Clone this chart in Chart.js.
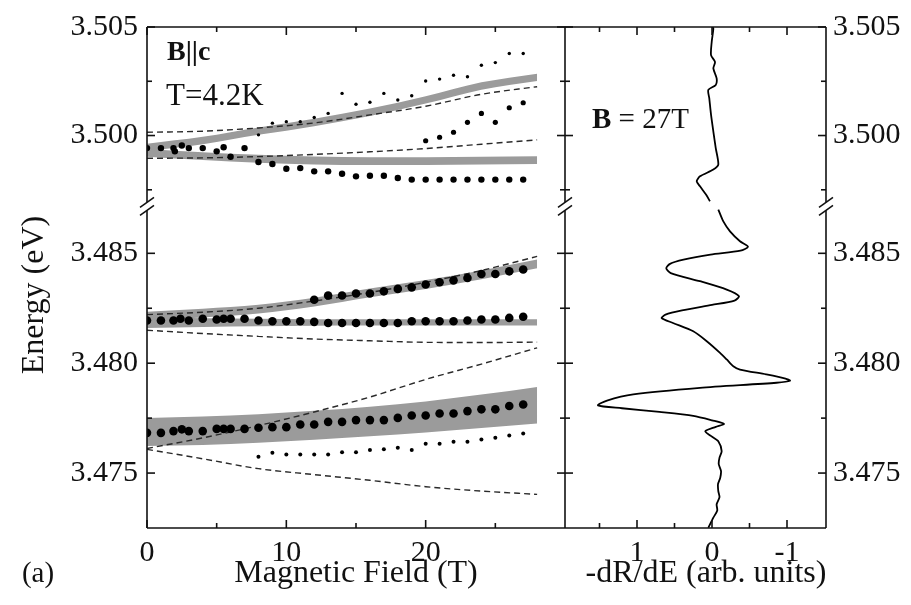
<!DOCTYPE html>
<html>
<head>
<meta charset="utf-8">
<title>Exciton energies vs magnetic field</title>
<script src="https://cdn.jsdelivr.net/npm/chart.js@4.4.1/dist/chart.umd.min.js"></script>
<style>
  html, body { margin: 0; padding: 0; background: #fff; }
  #wrap { width: 911px; height: 605px; }
</style>
</head>
<body>
<div id="wrap"><canvas id="fig" width="911" height="605"></canvas></div>
<script>
// tick values for the four axes
const fieldTicks = [0, 5, 10, 15, 20, 25];
const signalTicks = [1.5, 1, 0.5, 0, -0.5, -1];
const upperTicks = [3.4975, 3.5, 3.5025, 3.505];
const lowerTicks = [3.475, 3.4775, 3.48, 3.4825, 3.485];

// measured peaks, upper (n=2) group -- field in T, energy in eV
const n2MainB = [0, 1, 1.9, 2, 2.5, 3, 4, 5, 5.5, 6, 7, 8, 9, 10, 11, 12, 13, 14, 15, 16, 17, 18, 19, 20, 21, 22, 23, 24, 25, 26, 27];
const n2MainE = [3.49942, 3.49942, 3.49942, 3.49927, 3.49954, 3.49942, 3.49942, 3.49927, 3.49946, 3.49902, 3.49942, 3.49878, 3.49869, 3.49847, 3.4985, 3.49835, 3.49835, 3.49824, 3.49812, 3.49815, 3.49815, 3.49804, 3.49797, 3.49797, 3.49797, 3.49797, 3.49797, 3.49797, 3.49797, 3.49797, 3.49797];
const n2WeakB = [8, 9, 10, 11, 12, 13, 14, 15, 16, 17, 18, 19, 20, 21, 22, 23, 24, 25, 26, 27];
const n2WeakE = [3.50003, 3.50057, 3.50064, 3.50064, 3.50083, 3.50102, 3.50194, 3.50144, 3.50153, 3.50194, 3.50164, 3.50183, 3.50251, 3.5026, 3.50278, 3.50271, 3.50324, 3.50336, 3.50378, 3.50378];
const n2MidB = [20, 21, 22, 23, 24, 25, 26, 27];
const n2MidE = [3.49976, 3.49992, 3.50015, 3.50061, 3.50102, 3.50061, 3.50128, 3.50151];

// measured peaks, lower (n=1) group
const aSplitB = [12, 13, 14, 15, 16, 17, 18, 19, 20, 21, 22, 23, 24, 25, 26, 27];
const aSplitE = [3.48289, 3.48308, 3.48308, 3.48317, 3.48317, 3.48327, 3.48338, 3.48345, 3.48358, 3.48368, 3.48377, 3.48388, 3.48406, 3.48406, 3.48418, 3.48426];
const aMainB = [0, 1, 1.9, 2.4, 3, 4, 5, 5.5, 6, 7, 8, 9, 10, 11, 12, 13, 14, 15, 16, 17, 18, 19, 20, 21, 22, 23, 24, 25, 26, 27];
const aMainE = [3.48194, 3.48194, 3.48194, 3.48202, 3.48194, 3.48202, 3.48199, 3.48202, 3.48202, 3.48202, 3.48194, 3.48191, 3.48191, 3.48191, 3.48188, 3.48183, 3.48183, 3.48183, 3.48183, 3.48183, 3.48183, 3.48191, 3.48191, 3.48191, 3.48191, 3.48194, 3.48199, 3.48199, 3.48206, 3.48211];
const bMainB = [0, 1, 1.9, 2.5, 3, 4, 5, 5.5, 6, 7, 8, 9, 10, 11, 12, 13, 14, 15, 16, 17, 18, 19, 20, 21, 22, 23, 24, 25, 26, 27];
const bMainE = [3.47683, 3.47683, 3.47691, 3.47699, 3.47691, 3.47691, 3.47701, 3.47701, 3.47701, 3.47701, 3.47706, 3.47709, 3.47709, 3.47721, 3.47721, 3.47733, 3.47733, 3.47741, 3.47741, 3.47741, 3.47751, 3.47762, 3.47762, 3.47771, 3.47771, 3.47782, 3.4779, 3.4779, 3.47805, 3.47812];
const bWeakB = [8, 9, 10, 11, 12, 13, 14, 15, 16, 17, 18, 19, 20, 21, 22, 23, 24, 25, 26, 27];
const bWeakE = [3.47574, 3.47592, 3.47585, 3.47585, 3.47585, 3.47585, 3.47595, 3.47595, 3.47605, 3.47608, 3.47615, 3.47605, 3.47633, 3.47633, 3.47642, 3.47642, 3.47653, 3.47661, 3.47671, 3.4768];

// calculated levels (dashed) and their broadened ranges (grey)
const calcB = [0, 4, 8, 12, 16, 20, 24, 28];
const n2DashHi = [3.50015, 3.5002, 3.50035, 3.50058, 3.50095, 3.50135, 3.5019, 3.50225];
const n2DashLo = [3.49895, 3.49897, 3.49903, 3.49913, 3.49925, 3.4994, 3.4996, 3.4998];
const aDashHi = [3.48221, 3.48232, 3.4825, 3.48283, 3.48322, 3.48368, 3.48422, 3.48486];
const aDashLo = [3.4815, 3.48135, 3.48122, 3.4811, 3.48102, 3.48095, 3.48094, 3.48096];
const bDashHi = [3.47612, 3.4766, 3.47716, 3.47778, 3.47846, 3.47926, 3.47996, 3.4807];
const bDashLo = [3.47608, 3.47565, 3.4752, 3.47493, 3.47467, 3.47438, 3.47418, 3.47403];

const n2BandUpLo = [3.49928, 3.4996, 3.50003, 3.50043, 3.5009, 3.50147, 3.50211, 3.50251];
const n2BandUpHi = [3.49962, 3.49994, 3.50037, 3.50077, 3.50124, 3.50181, 3.50245, 3.50285];
const n2BandDnLo = [3.49902, 3.49887, 3.49875, 3.49867, 3.49864, 3.49864, 3.49866, 3.49869];
const n2BandDnHi = [3.49938, 3.49923, 3.49911, 3.49903, 3.499, 3.499, 3.49902, 3.49905];
const aBandUpLo = [3.48194, 3.48208, 3.48226, 3.48258, 3.483, 3.48338, 3.48382, 3.48432];
const aBandUpHi = [3.48234, 3.48248, 3.48266, 3.48298, 3.4834, 3.48378, 3.48422, 3.48472];
const aBandDnLo = [3.4816, 3.48165, 3.48168, 3.4817, 3.48171, 3.48172, 3.48172, 3.48172];
const aBandDnHi = [3.4821, 3.48205, 3.48202, 3.482, 3.482, 3.482, 3.482, 3.482];
const bBandLo = [3.47623, 3.47628, 3.47638, 3.47652, 3.47667, 3.47685, 3.47705, 3.47726];
const bBandHi = [3.4775, 3.47757, 3.47768, 3.47783, 3.47802, 3.47826, 3.47857, 3.47892];

// reflectance derivative at 27 T, split at the axis break
const specTopE = [3.505, 3.50492, 3.50431, 3.5037, 3.50339, 3.50309, 3.50263, 3.50233, 3.5021, 3.50171, 3.50096, 3.50018, 3.49942, 3.49866, 3.49843, 3.49812, 3.49789, 3.49766, 3.49728, 3.49697];
const specTopV = [-0.01, -0.018, 0.004, 0.013, -0.04, -0.018, -0.062, -0.05, 0.049, 0.036, 0.013, -0.018, -0.05, -0.084, -0.018, 0.16, 0.204, 0.16, 0.08, 0.027];
const specLowE = [3.48699, 3.48645, 3.486, 3.48555, 3.4853, 3.48512, 3.48494, 3.48471, 3.48452, 3.48432, 3.4841, 3.48373, 3.48335, 3.48305, 3.48285, 3.48265, 3.4824, 3.48221, 3.48205, 3.48183, 3.48145, 3.481, 3.48047, 3.48017, 3.47986, 3.47971, 3.47949, 3.4793, 3.4792, 3.47911, 3.47888, 3.47858, 3.4783, 3.47808, 3.47795, 3.47778, 3.4776, 3.4774, 3.47724, 3.4771, 3.4769, 3.47668, 3.47645, 3.476, 3.4757, 3.4754, 3.4751, 3.47479, 3.4745, 3.47418, 3.4739, 3.47358, 3.4733, 3.47297, 3.47251];
const specLowV = [-0.084, -0.151, -0.24, -0.373, -0.48, -0.38, 0.02, 0.38, 0.56, 0.61, 0.55, 0.16, -0.196, -0.36, -0.3, 0.0, 0.4, 0.62, 0.67, 0.52, 0.25, 0.07, -0.107, -0.196, -0.284, -0.373, -0.72, -0.98, -1.04, -0.86, 0.16, 1.05, 1.4, 1.52, 1.2, 0.7, 0.25, 0.0, -0.16, -0.05, 0.09, 0.01, -0.084, -0.129, -0.1, -0.09, -0.12, -0.11, -0.08, -0.084, -0.1, -0.062, -0.07, -0.018, 0.049];

const SERIF = '"Liberation Serif", "Times New Roman", serif';
const INK = '#111';
const GREY = '#9b9b9b';

const pts = (xs, ys) => xs.map((x, i) => ({x: x, y: ys[i]}));

function dots(xs, ys, r, yAxisID) {
  return {data: pts(xs, ys), xAxisID: 'x', yAxisID: yAxisID, showLine: false,
    pointRadius: r, pointBackgroundColor: '#000', pointBorderWidth: 0, order: 0};
}
function dashed(ys, yAxisID) {
  return {data: pts(calcB, ys), xAxisID: 'x', yAxisID: yAxisID, showLine: true,
    borderColor: '#2a2a2a', borderWidth: 1.4, borderDash: [6, 4], pointRadius: 0,
    cubicInterpolationMode: 'monotone', fill: false, order: 1};
}
function band(lo, hi, yAxisID) {
  const common = {xAxisID: 'x', yAxisID: yAxisID, showLine: true, borderWidth: 0,
    borderColor: GREY, pointRadius: 0, cubicInterpolationMode: 'monotone', order: 2};
  return [
    Object.assign({data: pts(calcB, lo), fill: false}, common),
    Object.assign({data: pts(calcB, hi), fill: '-1', backgroundColor: GREY}, common)
  ];
}
function spectrum(es, vs, yAxisID) {
  return {data: pts(vs, es), xAxisID: 'x2', yAxisID: yAxisID, showLine: true,
    borderColor: '#000', borderWidth: 1.8, pointRadius: 0, tension: 0.25, fill: false, order: 0};
}

const datasets = [
  ...band(n2BandUpLo, n2BandUpHi, 'yT'),
  ...band(n2BandDnLo, n2BandDnHi, 'yT'),
  ...band(aBandUpLo, aBandUpHi, 'yB'),
  ...band(aBandDnLo, aBandDnHi, 'yB'),
  ...band(bBandLo, bBandHi, 'yB'),
  dashed(n2DashHi, 'yT'), dashed(n2DashLo, 'yT'),
  dashed(aDashHi, 'yB'), dashed(aDashLo, 'yB'),
  dashed(bDashHi, 'yB'), dashed(bDashLo, 'yB'),
  dots(n2MainB, n2MainE, 3.2, 'yT'),
  dots(n2WeakB, n2WeakE, 1.7, 'yT'),
  dots(n2MidB, n2MidE, 2.6, 'yT'),
  dots(aSplitB, aSplitE, 4.3, 'yB'),
  dots(aMainB, aMainE, 4.3, 'yB'),
  dots(bMainB, bMainE, 4.3, 'yB'),
  dots(bWeakB, bWeakE, 2, 'yB'),
  spectrum(specTopE, specTopV, 'yT'),
  spectrum(specLowE, specLowV, 'yB')
];

const isMajorE = v => Math.abs(v / 0.005 - Math.round(v / 0.005)) < 1e-6;
const energyLabel = v => isMajorE(v) ? v.toFixed(3) : '';
const fixTicks = vals => scale => { scale.ticks = vals.map(v => ({value: v})); };
const tickFont = {family: SERIF, size: 30};

function energyAxis(position, min, max, weight, stackWeight, vals) {
  return {
    type: 'linear', position: position, stack: position, stackWeight: stackWeight, weight: weight,
    min: min, max: max,
    afterBuildTicks: fixTicks(vals),
    afterFit: s => { s.width = position === 'left' ? 147 : 85; },
    grid: {display: false, drawTicks: false},
    border: {display: false},
    ticks: {autoSkip: false, padding: position === 'left' ? 9 : 7, color: INK, font: tickFont, callback: energyLabel}
  };
}

// frame, inward tick marks and the axis break
const framePlugin = {
  id: 'frame',
  afterDatasetsDraw(chart) {
    const {ctx, chartArea: a, scales: s} = chart;
    const mid = s.x.right;
    const brk = s.yT.bottom;
    const seg = (x1, y1, x2, y2) => { ctx.beginPath(); ctx.moveTo(x1, y1); ctx.lineTo(x2, y2); ctx.stroke(); };
    ctx.save();
    ctx.strokeStyle = INK;
    ctx.lineWidth = 1.6;
    seg(a.left, a.top, a.right, a.top);
    seg(a.left, a.bottom, a.right, a.bottom);
    for (const xv of [a.left, mid, a.right]) {
      seg(xv, a.top, xv, brk - 4);
      seg(xv, brk + 4, xv, a.bottom);
      seg(xv - 7, brk + 1, xv + 7, brk - 9);
      seg(xv - 7, brk + 9, xv + 7, brk - 1);
    }
    for (const v of fieldTicks) {
      const px = s.x.getPixelForValue(v);
      const len = v % 10 === 0 ? 8 : 5;
      seg(px, a.bottom, px, a.bottom - len);
      seg(px, a.top, px, a.top + len);
    }
    for (const v of signalTicks) {
      const px = s.x2.getPixelForValue(v);
      const len = Number.isInteger(v) ? 8 : 5;
      seg(px, a.bottom, px, a.bottom - len);
      seg(px, a.top, px, a.top + len);
    }
    for (const [scale, vals] of [[s.yT, upperTicks], [s.yB, lowerTicks]]) {
      for (const v of vals) {
        const py = scale.getPixelForValue(v);
        const len = isMajorE(v) ? 8 : 5;
        seg(a.left, py, a.left + len, py);
        seg(mid - len, py, mid + len, py);
        seg(a.right - len, py, a.right, py);
      }
    }
    ctx.restore();
  }
};

// titles and annotations
const textPlugin = {
  id: 'texts',
  afterDraw(chart) {
    const {ctx, chartArea: a, scales: s} = chart;
    ctx.save();
    ctx.fillStyle = INK;
    ctx.textAlign = 'left';
    ctx.textBaseline = 'alphabetic';
    ctx.font = 'bold 28px ' + SERIF;
    ctx.fillText('B||c', 167, 60);
    ctx.font = '31px ' + SERIF;
    ctx.fillText('T=4.2K', 166, 105);
    ctx.font = 'bold 29px ' + SERIF;
    ctx.fillText('B', 592, 128);
    const w = ctx.measureText('B').width;
    ctx.font = '29px ' + SERIF;
    ctx.fillText(' = 27T', 592 + w, 128);

    ctx.textAlign = 'center';
    ctx.textBaseline = 'middle';
    ctx.font = '32px ' + SERIF;
    ctx.fillText('Magnetic Field (T)', (a.left + s.x.right) / 2, 574);
    ctx.fillText('-dR/dE (arb. units)', 706, 574);
    ctx.font = '29px ' + SERIF;
    ctx.fillText('(a)', 38, 574);
    ctx.font = '32px ' + SERIF;
    ctx.translate(35, 295);
    ctx.rotate(-Math.PI / 2);
    ctx.fillText('Energy (eV)', 0, 0);
    ctx.restore();
  }
};

new Chart(document.getElementById('fig'), {
  type: 'scatter',
  data: {datasets: datasets},
  plugins: [framePlugin, textPlugin],
  options: {
    responsive: false,
    animation: false,
    devicePixelRatio: 1,
    layout: {padding: {top: 25, left: 0, right: 0, bottom: 0}},
    plugins: {legend: {display: false}, tooltip: {enabled: false}},
    scales: {
      x: {
        type: 'linear', position: 'bottom', stack: 'bottom', stackWeight: 418, weight: 1,
        min: 0, max: 30,
        afterBuildTicks: fixTicks(fieldTicks),
        afterFit: s => { s.height = 77; },
        grid: {display: false, drawTicks: false},
        border: {display: false},
        ticks: {autoSkip: false, maxRotation: 0, padding: 7, color: INK, font: tickFont,
          callback: v => v % 10 === 0 ? String(v) : ''}
      },
      x2: {
        type: 'linear', position: 'bottom', stack: 'bottom', stackWeight: 261, weight: 2,
        reverse: true, min: -1.52, max: 1.96,
        afterBuildTicks: fixTicks(signalTicks),
        afterFit: s => { s.height = 77; },
        grid: {display: false, drawTicks: false},
        border: {display: false},
        ticks: {autoSkip: false, maxRotation: 0, padding: 7, color: INK, font: tickFont,
          callback: v => Number.isInteger(v) ? String(v) : ''}
      },
      yT: energyAxis('left', 3.49674, 3.505, 2, 180, upperTicks),
      yB: energyAxis('left', 3.4725, 3.48714, 1, 323, lowerTicks),
      yrT: energyAxis('right', 3.49674, 3.505, 1, 180, upperTicks),
      yrB: energyAxis('right', 3.4725, 3.48714, 2, 323, lowerTicks)
    }
  }
});
</script>
</body>
</html>
